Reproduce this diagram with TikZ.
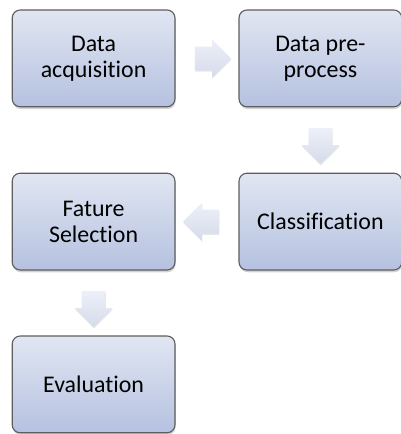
\documentclass[tikz,border=0pt]{standalone}
\usepackage{fontspec}
\setmainfont{Carlito}[Ligatures=NoCommon]
\usetikzlibrary{shapes.arrows,shadows,calc}

\definecolor{boxtop}{HTML}{E1E6F2}
\definecolor{boxbottom}{HTML}{B5C1E0}
\definecolor{boxline}{HTML}{5E5E5E}
\definecolor{arrtop}{HTML}{EDF0F8}
\definecolor{arrbottom}{HTML}{D5DBEB}

\tikzset{stepbox/.style={rectangle, rounded corners=0.2cm, draw=boxline, thick, top color=boxtop, bottom color=boxbottom, minimum width=4.07cm, minimum height=2.42cm, align=center, font=\fontsize{17}{18.5}\selectfont, drop shadow={opacity=0.35, shadow xshift=0.4pt, shadow yshift=-1.6pt}}}
\tikzset{flowarrow/.style={single arrow, draw=none, top color=arrtop, bottom color=arrbottom, inner xsep=0pt, inner ysep=0.29cm, minimum height=0.9cm, single arrow head extend=0.175cm, single arrow tip angle=90, drop shadow={opacity=0.2, shadow xshift=0.3pt, shadow yshift=-1pt}}}
\tikzset{flowdown/.style={flowarrow, shape border rotate=270, inner xsep=0.29cm, inner ysep=0pt}}

\begin{document}
\begin{tikzpicture}
		\useasboundingbox (0,0) rectangle (10.025,-10.85);

		%steps
		\node[stepbox] (acq) at (2.34,-1.46) {Data\\acquisition};
		\node[stepbox] (pre) at (8.01,-1.46) {Data pre-\\process};
		\node[stepbox] (cls) at (8.01,-5.54) {Classification};
		\node[stepbox] (fsel) at (2.34,-5.54) {Fature\\Selection};
		\node[stepbox] (eval) at (2.34,-9.61) {Evaluation};

		%arrows between steps
		\node[flowarrow] (a1) at ($(acq.east)!0.5!(pre.west)$) {};
		\node[flowdown] (a2) at ($(pre.south)!0.5!(cls.north)$) {};
		\node[flowarrow, shape border rotate=180] (a3) at ($(cls.west)!0.5!(fsel.east)$) {};
		\node[flowdown] (a4) at ($(fsel.south)!0.5!(eval.north)$) {};

	\end{tikzpicture}
\end{document}
